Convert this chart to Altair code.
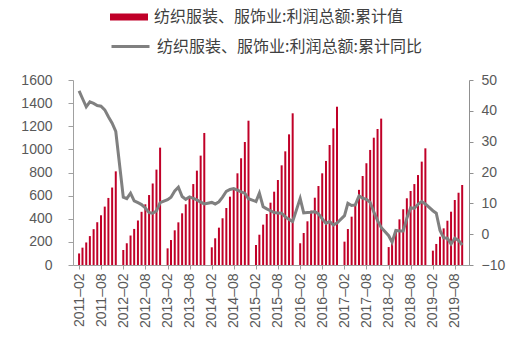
import altair as alt
import pandas as pd

# ---- data ----
years = [2011, 2012, 2013, 2014, 2015, 2016, 2017, 2018, 2019]
months = [2, 3, 4, 5, 6, 7, 8, 9, 10, 11, 12]

profit = {
    2011: [100, 150, 195, 250, 310, 370, 430, 505, 580, 670, 810],
    2012: [130, 188, 255, 312, 385, 460, 525, 605, 705, 825, 1015],
    2013: [144, 216, 300, 369, 447, 525, 597, 700, 816, 946, 1142],
    2014: [153, 231, 323, 404, 493, 591, 663, 793, 923, 1064, 1248],
    2015: [173, 262, 349, 441, 539, 634, 735, 862, 983, 1130, 1312],
    2016: [188, 277, 378, 470, 582, 683, 793, 900, 1038, 1182, 1369],
    2017: [202, 311, 418, 525, 650, 770, 880, 995, 1101, 1176, 1266],
    2018: [155, 225, 297, 395, 482, 577, 640, 700, 778, 894, 1009],
    2019: [124, 182, 245, 317, 383, 461, 562, 625, 692],
}
yoy = {
    2011: [46.5, 44.0, 41.3, 42.9, 42.4, 41.7, 41.5, 40.3, 38.1, 36.0, 33.3],
    2012: [12.0, 11.5, 13.3, 10.8, 10.2, 9.6, 8.5, 7.0, 6.8, 7.5, 10.2],
    2013: [11.2, 12.0, 14.0, 15.2, 12.2, 11.3, 12.1, 11.6, 11.1, 10.4, 9.8],
    2014: [10.3, 9.8, 10.5, 12.0, 13.9, 14.5, 14.8, 14.3, 13.7, 13.3, 11.5],
    2015: [10.6, 13.3, 8.9, 8.2, 7.6, 7.0, 6.9, 6.8, 5.6, 4.8, 4.1],
    2016: [11.6, 6.9, 7.0, 7.1, 7.3, 6.6, 5.0, 3.5, 4.1, 3.0, 3.6],
    2017: [6.0, 10.0, 9.3, 9.5, 12.4, 11.7, 11.3, 10.3, 7.2, 4.4, 2.2],
    2018: [-0.5, -2.6, 1.2, 1.0, 1.0, 5.2, 8.5, 8.4, 9.7, 10.6, 9.8],
    2019: [7.6, 6.8, 1.2, -1.2, -1.3, -3.2, -1.3, -2.0, -3.5],
}

tick_labels = ["2011-02", "2011-08", "2012-02", "2012-08", "2013-02", "2013-08",
               "2014-02", "2014-08", "2015-02", "2015-08", "2016-02", "2016-08",
               "2017-02", "2017-08", "2018-02", "2018-08", "2019-02", "2019-08"]

name_bar = "纺织服装、服饰业:利润总额:累计值"
name_line = "纺织服装、服饰业:利润总额:累计同比"

rows = []
for y in years:
    for m, p, g in zip(months, profit[y], yoy[y]):
        rows.append({"date": f"{y}-{m:02d}-01", "profit": p, "yoy": g,
                     "s1": name_bar, "s2": name_line})
df = pd.DataFrame(rows)

RED = "#C00028"
GREY = "#808080"
TXT = "#595959"
FONT = "Liberation Sans"
CJK = "Noto Sans CJK SC"

tick_values = [alt.DateTime(year=int(t[:4]), month=int(t[5:]), date=1, utc=True) for t in tick_labels]

x = alt.X(
    "date:T",
    scale=alt.Scale(type="utc",
                    domain=[alt.DateTime(year=2011, month=1, date=23, utc=True),
                            alt.DateTime(year=2019, month=10, date=16, utc=True)]),
    axis=alt.Axis(values=tick_values, format="%Y–%m", labelAngle=270,
                  labelFontSize=14, labelFont=FONT, labelColor=TXT,
                  labelPadding=4, tickSize=4, tickColor="#A0A0A0",
                  domainColor="#A0A0A0", grid=False, title=None,
                  labelOverlap=False, labelFlush=False, labelBound=False,
                  labelBaseline="middle", labelAlign="right"),
)

bars = alt.Chart(df).mark_bar(size=2).encode(
    x=x,
    y=alt.Y("profit:Q",
            scale=alt.Scale(domain=[0, 1600], nice=False),
            axis=alt.Axis(values=list(range(0, 1601, 200)), format="d",
                          labelFontSize=14, labelFont=FONT, labelColor=TXT,
                          labelPadding=16, tickSize=5, tickColor="#A0A0A0",
                          domainColor="#A0A0A0", grid=False, title=None)),
    color=alt.Color("s1:N", scale=alt.Scale(domain=[name_bar], range=[RED]),
                    legend=alt.Legend(orient="none", legendX=37, legendY=-82,
                                      title=None, symbolType="M-1,-0.18H1V0.18H-1Z",
                                      symbolSize=1444, symbolStrokeWidth=0,
                                      labelFont=CJK, labelFontSize=16, labelLimit=0,
                                      labelColor="#404040", labelOffset=6,
                                      padding=0)),
)

line = alt.Chart(df).mark_line(strokeWidth=3).encode(
    x=x,
    y=alt.Y("yoy:Q",
            scale=alt.Scale(domain=[-10, 50], nice=False),
            axis=alt.Axis(orient="right", values=list(range(-10, 51, 10)),
                          labelFontSize=14, labelFont=FONT, labelColor=TXT,
                          labelPadding=8, tickSize=4, tickColor="#909090",
                          domainColor="#909090", grid=False, title=None)),
    stroke=alt.Stroke("s2:N", scale=alt.Scale(domain=[name_line], range=[GREY]),
                      legend=alt.Legend(orient="none", legendX=37, legendY=-54,
                                        title=None, symbolType="stroke",
                                        symbolSize=1444, symbolStrokeWidth=3,
                                        labelFont=CJK, labelFontSize=16, labelLimit=0,
                                        labelColor="#404040", labelOffset=6,
                                        padding=0)),
)

chart = alt.layer(bars, line).resolve_scale(
    y="independent", color="independent", stroke="independent"
).properties(
    width=396, height=185,
    autosize=alt.AutoSizeParams(type="none"),
    padding={"left": 73, "top": 80, "right": 58, "bottom": 78},
).configure_view(stroke=None)

chart.save("out.html", embed_options={"renderer": "svg", "actions": False})
